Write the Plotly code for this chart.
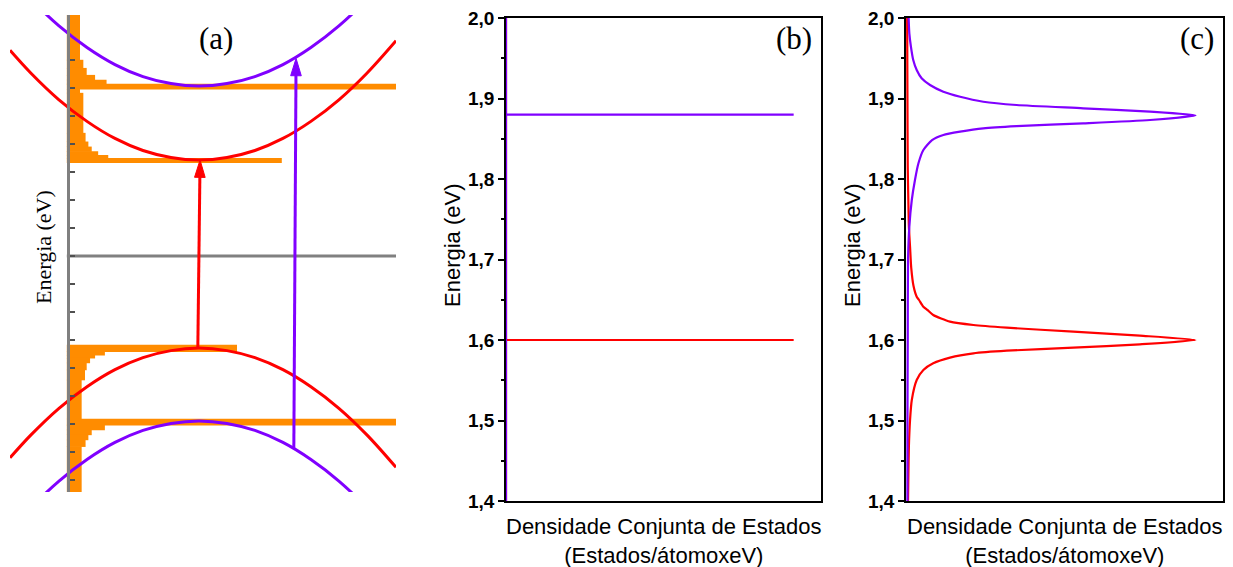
import math
import plotly.graph_objects as go

# ---------------- Panel (a): schematic band structure + DOS ----------------
k_band = [-6.75, -6, -5, -4, -3, -2, -1, 0, 1, 2, 3, 4, 5, 6, 7.04]
E_cb_purple = [9.99, 9.17, 8.22, 7.45, 6.84, 6.41, 6.16, 6.07, 6.16, 6.41, 6.84, 7.45, 8.22, 9.17, 10.33]
E_cb_red = [7.35, 6.53, 5.58, 4.81, 4.20, 3.77, 3.52, 3.43, 3.52, 3.77, 4.20, 4.81, 5.58, 6.53, 7.69]
E_vb_red = [-7.21, -6.39, -5.44, -4.67, -4.06, -3.63, -3.38, -3.29, -3.38, -3.63, -4.06, -4.67, -5.44, -6.39, -7.55]
E_vb_purple = [-9.81, -8.99, -8.04, -7.27, -6.66, -6.23, -5.98, -5.89, -5.98, -6.23, -6.66, -7.27, -8.04, -8.99, -10.15]

dos_axis_k = -4.72
dos_c_edges = [8.8, 7.00, 6.71, 6.46, 6.29, 6.14, 5.96, 5.82, 4.39, 4.08, 3.90, 3.73, 3.60, 3.49, 3.33]
dos_c_width = [0.47, 0.59, 0.71, 1.01, 1.42, 11.8, 0.47, 0.59, 0.67, 0.77, 0.89, 1.12, 1.48, 7.68]
dos_v_edges = [-3.18, -3.42, -3.54, -3.65, -3.82, -4.07, -4.43, -5.82, -6.04, -6.21, -6.39, -6.57, -6.81, -8.8]
dos_v_width = [6.08, 1.36, 1.01, 0.83, 0.71, 0.65, 0.53, 11.8, 1.36, 0.89, 0.77, 0.67, 0.53]

energy_ticks_a = list(range(-8, 8))
fermi_E = 0.0

arrow_tail_k = [-0.04, 3.39]
arrow_tail_E = [-3.29, -6.86]
arrow_tip_k = [0.04, 3.47]
arrow_tip_E = [3.43, 7.06]
arrow_colors = ["#FF0000", "#8000FF"]

# ---------------- Panel (b): ideal joint DOS ----------------
E_b_red = [1.4, 1.6, 1.6, 1.6, 2.0]
J_b_red = [0, 0, 1.0, 0, 0]
E_b_purple = [1.4, 1.88, 1.88, 1.88, 2.0]
J_b_purple = [0, 0, 1.0, 0, 0]

# ---------------- Panel (c): broadened joint DOS ----------------
E_c_red = [1.400, 1.426, 1.4675, 1.5006, 1.5255, 1.5503, 1.5627, 1.5710, 1.5781, 1.5834,
           1.5867, 1.5905, 1.5946, 1.6000, 1.6054, 1.6103, 1.6153, 1.6186, 1.6228, 1.6311,
           1.637, 1.6414, 1.6497, 1.6538, 1.667, 1.690, 1.7159, 1.7408, 1.774, 1.815, 1.900, 2.000]
J_c_red = [0.007, 0.008, 0.010, 0.014, 0.020, 0.037, 0.060, 0.094, 0.152, 0.233,
           0.348, 0.578, 0.808, 1.000, 0.808, 0.578, 0.348, 0.233, 0.152, 0.094,
           0.075, 0.060, 0.045, 0.037, 0.026, 0.018, 0.014, 0.010, 0.008, 0.006, 0.005, 0.004]
E_c_purple = [1.400, 1.500, 1.600, 1.6994, 1.7408, 1.7739, 1.7988, 1.8195, 1.836, 1.8484,
              1.8547, 1.8588, 1.8630, 1.8658, 1.8692, 1.8733, 1.8790, 1.8836, 1.8878, 1.8919,
              1.8960, 1.9022, 1.9085, 1.9168, 1.9251, 1.9354, 1.9478, 1.9644, 1.9810, 2.000]
J_c_purple = [0.005, 0.005, 0.006, 0.007, 0.0115, 0.020, 0.031, 0.043, 0.060, 0.090,
              0.129, 0.187, 0.267, 0.382, 0.612, 0.843, 1.000, 0.843, 0.612, 0.382,
              0.267, 0.187, 0.129, 0.083, 0.054, 0.037, 0.025, 0.017, 0.0115, 0.009]

RED = "#FF0000"
PURPLE = "#8000FF"
ORANGE = "#FF8C00"
GRAY = "#808080"
SANS = "Liberation Sans"
SERIF = "Liberation Serif"

fig = go.Figure()

# DOS staircase as horizontal bars
def steps(edges, widths):
    ys, th = [], []
    for i in range(len(widths)):
        ys.append((edges[i] + edges[i + 1]) / 2)
        th.append(abs(edges[i] - edges[i + 1]) + 0.02)
    return ys, th

yc, tc = steps(dos_c_edges, dos_c_width)
yv, tv = steps(dos_v_edges, dos_v_width)
fig.add_trace(go.Bar(orientation="h", x=dos_c_width + dos_v_width, y=yc + yv, width=tc + tv,
                     base=dos_axis_k, marker=dict(color=ORANGE, line=dict(width=0)),
                     xaxis="x", yaxis="y", showlegend=False, hoverinfo="skip"))

# gray zero-energy line
fig.add_trace(go.Scatter(x=[dos_axis_k, 7.2], y=[fermi_E, fermi_E], mode="lines",
                         line=dict(color=GRAY, width=3), xaxis="x", yaxis="y", showlegend=False))

for E_vals, col in [(E_cb_purple, PURPLE), (E_cb_red, RED), (E_vb_red, RED), (E_vb_purple, PURPLE)]:
    fig.add_trace(go.Scatter(x=k_band, y=E_vals, mode="lines", line=dict(color=col, width=3, shape="spline"),
                             xaxis="x", yaxis="y", showlegend=False))

# arrows
head_len, head_half = 0.62, 0.19
for tk, tE, hk, hE, col in zip(arrow_tail_k, arrow_tail_E, arrow_tip_k, arrow_tip_E, arrow_colors):
    dx, dy = hk - tk, hE - tE
    L = math.hypot(dx, dy)
    ux, uy = dx / L, dy / L
    nx, ny = -uy, ux
    bx, by = hk - head_len * ux, hE - head_len * uy
    fig.add_trace(go.Scatter(x=[tk, bx + 0.2 * head_len * ux], y=[tE, by + 0.2 * head_len * uy], mode="lines",
                             line=dict(color=col, width=3), xaxis="x", yaxis="y", showlegend=False))
    fig.add_trace(go.Scatter(x=[hk, bx + head_half * nx, bx - head_half * nx, hk],
                             y=[hE, by + head_half * ny, by - head_half * ny, hE],
                             mode="lines", fill="toself", fillcolor=col, line=dict(color=col, width=1),
                             xaxis="x", yaxis="y", showlegend=False))

# Panel (b)
fig.add_trace(go.Scatter(x=J_b_red, y=E_b_red, mode="lines", line=dict(color=RED, width=2.2),
                         xaxis="x2", yaxis="y2", showlegend=False))
fig.add_trace(go.Scatter(x=J_b_purple, y=E_b_purple, mode="lines", line=dict(color=PURPLE, width=2.2),
                         xaxis="x2", yaxis="y2", showlegend=False))

# Panel (c)
fig.add_trace(go.Scatter(x=J_c_red, y=E_c_red, mode="lines", line=dict(color=RED, width=2.2, shape="spline", smoothing=0.6),
                         xaxis="x3", yaxis="y3", showlegend=False))
fig.add_trace(go.Scatter(x=J_c_purple, y=E_c_purple, mode="lines", line=dict(color=PURPLE, width=2.2, shape="spline", smoothing=0.6),
                         xaxis="x3", yaxis="y3", showlegend=False))

W, H = 1233, 567

def px_x(v):
    return v / W

def px_y(v):
    return 1 - v / H

energy_axis = dict(range=[1.4, 2.0], tick0=1.4, dtick=0.1, tickformat=".1f", ticks="outside",
                   ticklen=6, tickwidth=1.5, tickcolor="black", showline=True, linecolor="black",
                   linewidth=1.5, mirror=True, showgrid=False, zeroline=False, automargin=False,
                   tickprefix="<b>", ticksuffix="</b>",
                   tickfont=dict(family=SANS, size=19, color="black"),
                   minor=dict(dtick=0.05, ticks="outside", ticklen=3, tickwidth=1.5, tickcolor="black", showgrid=False),
                   domain=[px_y(501), px_y(18)])
jdos_axis = dict(range=[0, 1.095], showline=True, linecolor="black", linewidth=1.5, mirror=True,
                 showgrid=False, zeroline=False, showticklabels=False, ticks="", automargin=False)

fig.update_layout(
    width=W, height=H, margin=dict(l=0, r=0, t=0, b=0, pad=0, autoexpand=False),
    paper_bgcolor="white", plot_bgcolor="white", separators=",.", barmode="overlay",
    showlegend=False,
    xaxis=dict(domain=[px_x(10), px_x(396)], range=[-6.75, 7.04], visible=False, automargin=False),
    yaxis=dict(domain=[px_y(492), px_y(15)], range=[-8.43, 8.61], anchor="free", position=68.3 / W,
               showline=True, linecolor=GRAY, linewidth=3, ticks="inside", tickvals=energy_ticks_a,
               ticklen=5, tickwidth=1.5, tickcolor="#505050", showticklabels=False, showgrid=False,
               zeroline=False, automargin=False),
    xaxis2=dict(domain=[px_x(506), px_x(821)], anchor="y2", **jdos_axis),
    yaxis2=dict(anchor="x2", **energy_axis),
    xaxis3=dict(domain=[px_x(906), px_x(1223)], anchor="y3", **jdos_axis),
    yaxis3=dict(anchor="x3", **energy_axis),
)

ann = []
for lab, x in [("(a)", 216), ("(b)", 794), ("(c)", 1197)]:
    ann.append(dict(text=lab, x=px_x(x), y=px_y(38), xref="paper", yref="paper", showarrow=False,
                    xanchor="center", yanchor="middle", font=dict(family=SERIF, size=31, color="black")))
ann.append(dict(text="Energia (eV)", x=px_x(43), y=px_y(247), xref="paper", yref="paper", showarrow=False,
                textangle=-90, xanchor="center", yanchor="middle", font=dict(family=SERIF, size=22, color="black")))
for cx, ax_x in [(663.5, 453), (1064.5, 853)]:
    ann.append(dict(text="Densidade Conjunta de Estados<br>(Estados/átomoxeV)", x=px_x(cx), y=px_y(541),
                    xref="paper", yref="paper", showarrow=False, xanchor="center", yanchor="middle",
                    font=dict(family=SANS, size=22, color="black")))
    ann.append(dict(text="Energia (eV)", x=px_x(ax_x), y=px_y(245), xref="paper", yref="paper",
                    showarrow=False, textangle=-90, xanchor="center", yanchor="middle",
                    font=dict(family=SANS, size=22, color="black")))
fig.update_layout(annotations=ann)

fig.write_html("out.html")
